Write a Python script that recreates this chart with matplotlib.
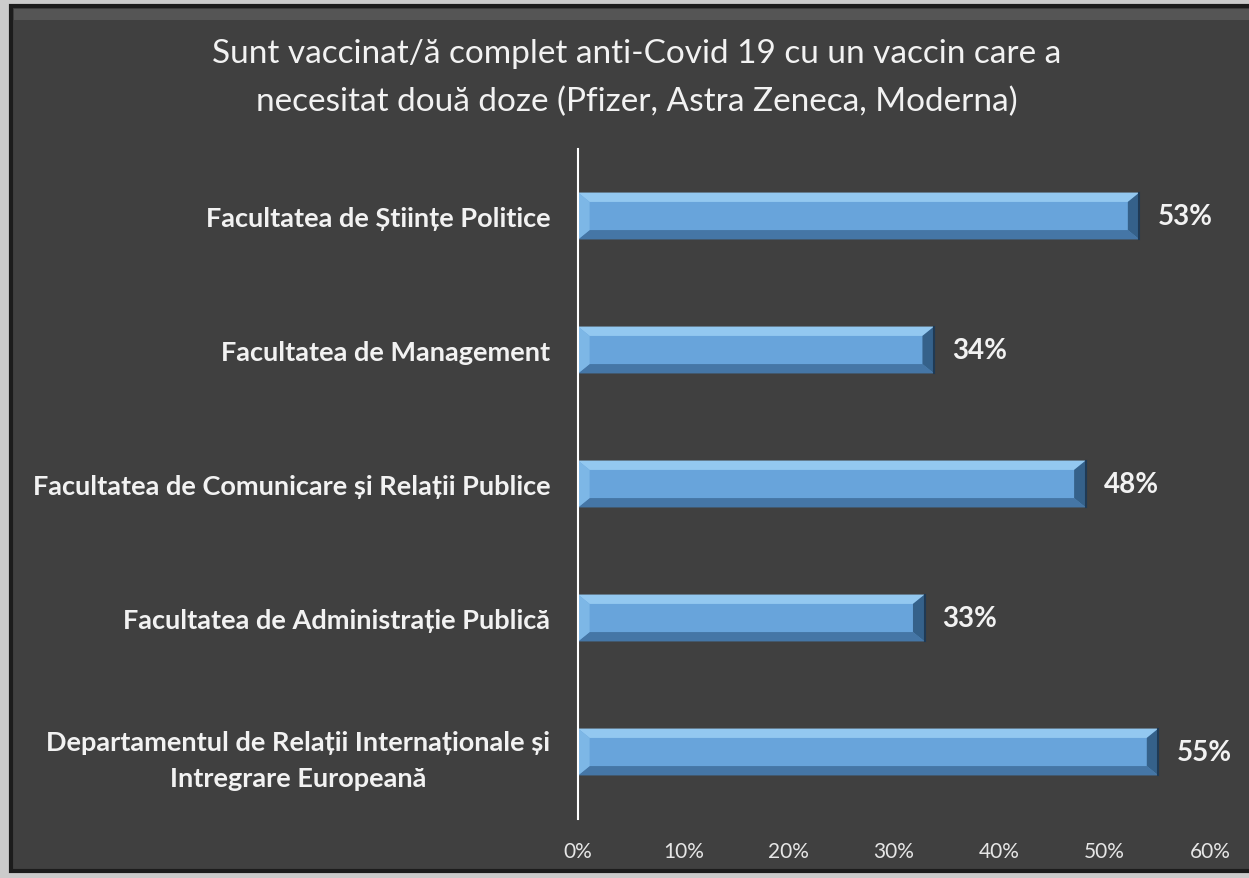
import matplotlib.pyplot as plt
from matplotlib.patches import Rectangle, Polygon
from matplotlib.ticker import FuncFormatter

plt.rcParams['font.family'] = ['Lato', 'DejaVu Sans']

categories = ['Facultatea de Științe Politice',
              'Facultatea de Management',
              'Facultatea de Comunicare și Relații Publice',
              'Facultatea de Administrație Publică',
              'Departamentul de Relații Internaționale și\nIntregrare Europeană']
values = [53.3, 33.8, 48.2, 32.9, 55.1]
ticks = [0, 10, 20, 30, 40, 50, 60]
title = 'Sunt vaccinat/ă complet anti-Covid 19 cu un vaccin care a\nnecesitat două doze (Pfizer, Astra Zeneca, Moderna)'

W, H = 1249, 879
fig = plt.figure(figsize=(W / 100, H / 100), dpi=100, facecolor='#cbcbcb')

# dark panel with border
fig.patches.append(Rectangle((11 / W, 1 - 872 / H), 1.0, (872 - 7) / H, transform=fig.transFigure,
                             facecolor='#404040', edgecolor='#1c1c1c', linewidth=3, zorder=-2))
fig.patches.append(Rectangle((14 / W, 1 - 21 / H), 1.0, 11 / H, transform=fig.transFigure,
                             facecolor='#555555', edgecolor='none', zorder=-1))

ax = fig.add_axes([578 / W, 59 / H, 632 / W, 670 / H])
ax.set_facecolor('none')
ax.set_zorder(3)

ys = list(range(len(values)))
h = 0.35
ax.barh(ys, values, height=h, color='#68a4db', edgecolor='none', zorder=2)

# bevel effect
by, bx = 0.07, 1.1
for y, v in zip(ys, values):
    t, b = y - h / 2, y + h / 2
    ax.add_patch(Polygon([(0, t), (v, t), (v - bx, t + by), (bx, t + by)],
                         facecolor='#93c8f0', edgecolor='none', zorder=3))
    ax.add_patch(Polygon([(0, b), (v, b), (v - bx, b - by), (bx, b - by)],
                         facecolor='#4576a6', edgecolor='none', zorder=3))
    ax.add_patch(Polygon([(v, t), (v, b), (v - bx, b - by), (v - bx, t + by)],
                         facecolor='#35618a', edgecolor='none', zorder=3))
    ax.add_patch(Polygon([(0, t), (0, b), (bx, b - by), (bx, t + by)],
                         facecolor='#7db7e6', edgecolor='none', zorder=3))
    ax.plot([v, v], [t, b], color='#1f3a55', lw=1.5, zorder=4)
    ax.text(v + 1.7, y, f'{round(v)}%', ha='left', va='center', color='#f2f2f2',
            fontsize=20, fontweight='bold', zorder=5)

ax.set_xlim(0, 60)
ax.set_ylim(len(values) - 0.5, -0.5)
ax.set_xticks(ticks)
ax.xaxis.set_major_formatter(FuncFormatter(lambda x, p: f'{int(x)}%'))
ax.set_yticks(ys)
ax.set_yticklabels(categories, fontweight='bold', fontsize=19.5, color='#f2f2f2',
                   multialignment='center', linespacing=1.6)
ax.tick_params(axis='x', length=0, pad=16, labelsize=15, labelcolor='#e6e6e6')
ax.tick_params(axis='y', length=0, pad=20)

for s in ['top', 'right', 'bottom']:
    ax.spines[s].set_visible(False)
ax.spines['left'].set_color('white')
ax.spines['left'].set_linewidth(1.5)
ax.spines['left'].set_zorder(6)

fig.text(637 / W, 1 - 78 / H, title, ha='center', va='center', color='#f2f2f2',
         fontsize=24, linespacing=1.75)

fig.savefig('out.png', dpi=100, facecolor=fig.get_facecolor())
